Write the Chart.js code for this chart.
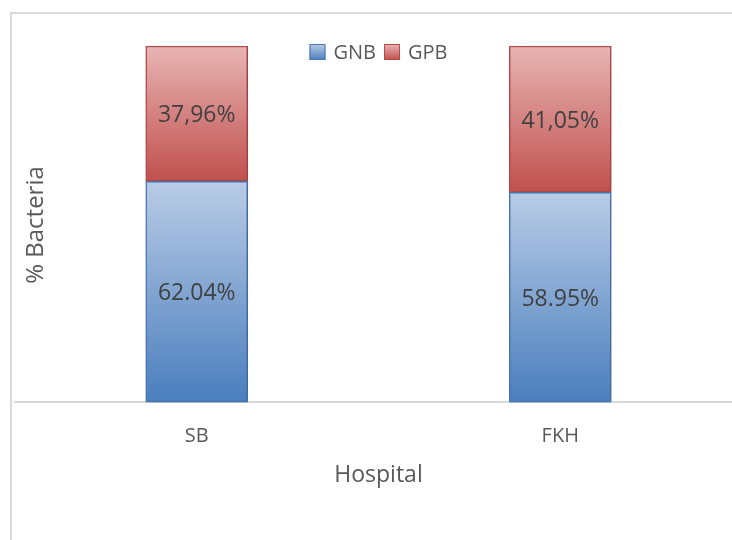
<!DOCTYPE html>
<html>
<head>
<meta charset="utf-8">
<script src="https://cdn.jsdelivr.net/npm/chart.js@4.4.1/dist/chart.umd.min.js"></script>
<style>
  html, body { margin: 0; padding: 0; background: #ffffff; overflow: hidden; }
  #wrap { position: relative; width: 742px; height: 540px; }
</style>
</head>
<body>
<div id="wrap"><canvas id="c" width="742" height="540"></canvas></div>
<script>
// Share of Gram-negative vs Gram-positive bacteria per hospital
const hospitals = ['SB', 'FKH'];
const gnbValues = [62.04, 58.95];
const gpbValues = [37.96, 41.05];
const seriesNames = ['GNB', 'GPB'];
const decimalMarks = ['.', ','];   // GNB labels use a point, GPB labels a comma

const FONT = '"Open Sans", "DejaVu Sans", sans-serif';
const TEXT = '#595959';

const palettes = [
  { top: '#b9cce6', bottom: '#4a7ebd', border: '#4a78b5' },
  { top: '#e8b5b4', bottom: '#c0504d', border: '#b9484a' }
];

function fmt(v, mark) {
  return v.toFixed(2).replace('.', mark) + '%';
}

function segmentGradient(ctx, yTop, yBottom, pal) {
  const g = ctx.createLinearGradient(0, yTop, 0, yBottom);
  g.addColorStop(0, pal.top);
  g.addColorStop(1, pal.bottom);
  return g;
}

function barFill(context) {
  const chart = context.chart;
  if (!chart.chartArea || !chart.scales.y) return palettes[context.datasetIndex].bottom;
  const y = chart.scales.y;
  const i = context.dataIndex;
  const ds = context.datasetIndex;
  let base = 0;
  for (let k = 0; k < ds; k++) base += chart.data.datasets[k].data[i];
  const v = chart.data.datasets[ds].data[i];
  return segmentGradient(chart.ctx, y.getPixelForValue(base + v), y.getPixelForValue(base), palettes[ds]);
}

// Frame lines, soft bar shadow, legend, value labels and the vertical title
const decor = {
  id: 'decor',
  beforeDraw(chart) {
    const ctx = chart.ctx;
    ctx.save();
    ctx.fillStyle = '#ffffff';
    ctx.fillRect(0, 0, chart.width, chart.height);
    ctx.strokeStyle = '#d9d9d9';
    ctx.lineWidth = 2;
    ctx.beginPath();
    ctx.moveTo(11, chart.height);
    ctx.lineTo(11, 13);
    ctx.lineTo(chart.width, 13);
    ctx.stroke();
    ctx.restore();
  },
  beforeDatasetsDraw(chart) {
    const ctx = chart.ctx;
    ctx.save();
    ctx.shadowColor = 'rgba(0,0,0,0.18)';
    ctx.shadowBlur = 7;
    ctx.shadowOffsetX = 3;
    ctx.shadowOffsetY = 1;
  },
  afterDatasetsDraw(chart) {
    chart.ctx.restore();
  },
  afterDraw(chart) {
    const ctx = chart.ctx;
    const area = chart.chartArea;
    ctx.save();

    // value labels centred in each segment
    ctx.font = '23px ' + FONT;
    ctx.fillStyle = '#404040';
    ctx.textAlign = 'center';
    ctx.textBaseline = 'middle';
    chart.data.datasets.forEach((ds, di) => {
      chart.getDatasetMeta(di).data.forEach((bar, i) => {
        const mid = (bar.y + bar.base) / 2;
        ctx.fillText(fmt(ds.data[i], decimalMarks[di]), bar.x, mid + 2);
      });
    });

    // legend inside the plot, top centre
    ctx.font = '20px ' + FONT;
    const box = 16, gapText = 8, gapItem = 8;
    const widths = seriesNames.map(n => ctx.measureText(n).width);
    let total = 0;
    widths.forEach((w, k) => { total += box + gapText + w + (k ? gapItem : 0); });
    let x = (area.left + area.right) / 2 - total / 2;
    const cy = 52;
    seriesNames.forEach((n, k) => {
      if (k) x += gapItem;
      ctx.fillStyle = segmentGradient(ctx, cy - box / 2, cy + box / 2, palettes[k]);
      ctx.fillRect(x, cy - box / 2, box, box);
      ctx.strokeStyle = palettes[k].border;
      ctx.lineWidth = 1;
      ctx.strokeRect(x + 0.5, cy - box / 2 + 0.5, box - 1, box - 1);
      x += box + gapText;
      ctx.fillStyle = TEXT;
      ctx.textAlign = 'left';
      ctx.fillText(n, x, cy + 1);
      x += widths[k];
    });

    // vertical axis title
    ctx.translate(36, 225);
    ctx.rotate(-Math.PI / 2);
    ctx.font = '24px ' + FONT;
    ctx.fillStyle = TEXT;
    ctx.textAlign = 'center';
    ctx.textBaseline = 'middle';
    ctx.fillText('% Bacteria', 0, 0);
    ctx.restore();
  }
};

new Chart(document.getElementById('c'), {
  type: 'bar',
  data: {
    labels: hospitals,
    datasets: [
      { label: seriesNames[0], data: gnbValues, backgroundColor: barFill,
        borderColor: palettes[0].border, borderWidth: 1.5, borderSkipped: false },
      { label: seriesNames[1], data: gpbValues, backgroundColor: barFill,
        borderColor: palettes[1].border, borderWidth: 1.5, borderSkipped: false }
    ]
  },
  options: {
    responsive: false,
    animation: false,
    layout: { padding: { left: 15, top: 46, right: 0, bottom: 0 } },
    datasets: { bar: { barThickness: 102 } },
    plugins: { legend: { display: false }, tooltip: { enabled: false } },
    scales: {
      x: {
        stacked: true,
        grid: { display: false, drawTicks: false },
        border: { display: true, color: '#d9d9d9', width: 2 },
        ticks: { color: TEXT, font: { family: FONT, size: 20 }, padding: 22 },
        title: { display: true, text: 'Hospital', color: TEXT,
                 font: { family: FONT, size: 23 }, padding: { top: -9, bottom: 51 } }
      },
      y: {
        stacked: true,
        display: false,
        min: 0,
        max: 100
      }
    }
  },
  plugins: [decor]
});
</script>
</body>
</html>
